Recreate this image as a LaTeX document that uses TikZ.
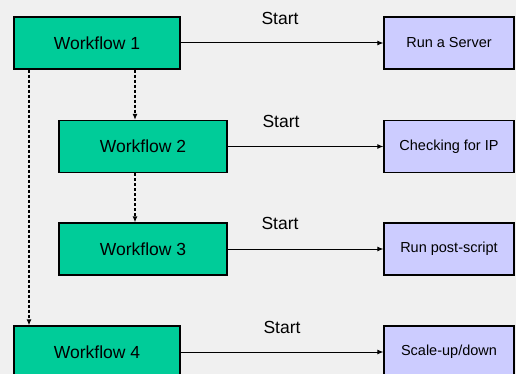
\documentclass[tikz,border=0pt]{standalone}
\usepackage{fontspec}
\setmainfont{Liberation Sans}
\usetikzlibrary{arrows.meta}
\definecolor{wfgreen}{RGB}{0,204,153}
\definecolor{tasklav}{RGB}{204,204,255}
\definecolor{bggray}{RGB}{240,240,240}
\tikzset{
  wfbox/.style={draw=black, line width=1.2pt, fill=wfgreen, minimum width=166pt, minimum height=52pt, inner sep=0pt, font=\fontsize{17.5}{20}\selectfont},
  taskbox/.style={draw=black, line width=1.2pt, fill=tasklav, minimum width=130pt, minimum height=52pt, inner sep=0pt, font=\fontsize{14.5}{17}\selectfont},
  startarr/.style={draw=black, line width=1pt, -{Latex[length=6pt,width=5pt]}},
  dasharr/.style={draw=black, line width=1.2pt, dash pattern=on 3pt off 2pt, -{Latex[length=6pt,width=5pt]}},
  startlbl/.style={font=\fontsize{17.5}{20}\selectfont, inner sep=0pt}
}
\begin{document}
\begin{tikzpicture}[x=1pt,y=-1pt]
\path[fill=bggray] (0,0) rectangle (516,374);
\useasboundingbox (0,0) rectangle (516,374);
\begin{scope}
\clip (0,0) rectangle (516,374);
\node[wfbox] (w1) at (97,43) {Workflow 1};
\node[wfbox, minimum width=168pt] (w2) at (143,146.5) {Workflow 2};
\node[wfbox, minimum width=168pt] (w3) at (143,249) {Workflow 3};
\node[wfbox] (w4) at (97,352) {Workflow 4};
\node[taskbox] (r1) at (449,43) {Run a Server};
\node[taskbox] (r2) at (449,146.5) {Checking for IP};
\node[taskbox] (r3) at (449,249) {Run post-script};
\node[taskbox] (r4) at (449,352) {Scale-up/down};
\node[startlbl] (s1) at (280,18) {Start};
\node[startlbl] (s2) at (281,121) {Start};
\node[startlbl] (s3) at (280,223) {Start};
\node[startlbl] (s4) at (282,327) {Start};
\draw[startarr] (w1) -- (r1);
\draw[startarr] (w2) -- (r2);
\draw[startarr] (w3) -- (r3);
\draw[startarr] (w4) -- (r4);
\draw[dasharr] ([xshift=38pt]w1.south) -- ([xshift=38pt]w1.south |- w2.north);
\draw[dasharr] ([xshift=-8pt]w2.south) -- ([xshift=-8pt]w2.south |- w3.north);
\draw[dasharr] ([xshift=-68pt]w1.south) -- ([xshift=-68pt]w1.south |- w4.north);
\end{scope}
\end{tikzpicture}
\end{document}
